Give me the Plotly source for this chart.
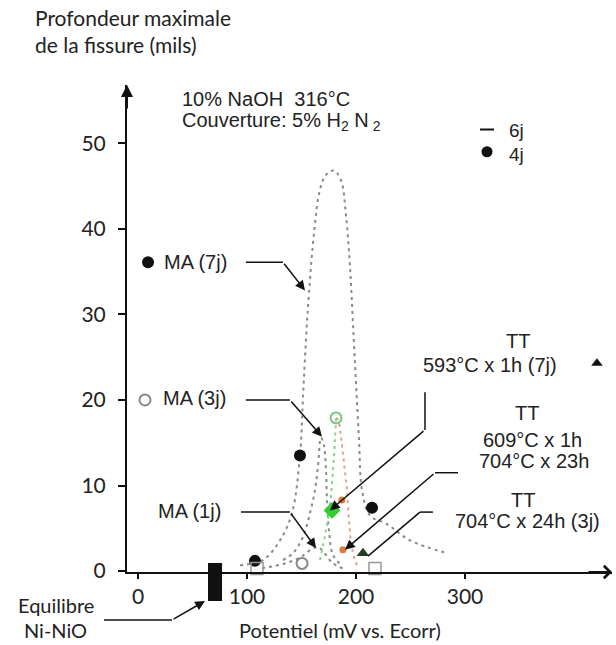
import plotly.graph_objects as go

# ---------------- data ----------------
# dotted envelope curves (potential mV, crack depth mils)
ma7_x = [93.6, 114.7, 130.3, 141.3, 148.6, 151.4, 154.1, 156.9, 161.5, 167.0, 172.5, 179.8,
         186.2, 190.8, 194.5, 197.2, 200.0, 202.8, 205.5, 212.8, 228.4, 249.5, 283.5]
ma7_y = [0.7, 1.3, 3.6, 6.8, 13.5, 20.4, 27.0, 32.5, 39.5, 44.6, 46.3, 46.8,
         45.7, 41.6, 35.6, 29.0, 22.0, 15.3, 9.5, 6.5, 5.5, 3.6, 2.1]
ma3_x = [133.0, 142.2, 151.4, 157.8, 162.4, 165.1, 167.9, 170.6, 172.5, 173.4, 175.2, 178.9, 187.2]
ma3_y = [1.3, 2.1, 4.0, 6.8, 9.5, 12.2, 15.6, 14.7, 11.8, 8.3, 4.8, 1.9, 0.6]
ma1_x = [113.8, 134.9, 148.6, 159.6, 165.1, 170.6, 178.0, 189.9]
ma1_y = [0.35, 0.9, 1.6, 2.6, 2.8, 2.2, 1.0, 0.2]
tt_left_x = [167.0, 172.5, 176.1, 178.9, 180.7, 181.7]
tt_left_y = [1.3, 4.8, 7.7, 11.8, 15.3, 17.9]
tt_right_x = [181.7, 183.5, 186.2, 189.0, 191.7, 193.6, 196.3, 201.8]
tt_right_y = [17.9, 17.7, 15.7, 12.6, 9.5, 6.0, 2.7, 0.35]

# individual measurements
filled_x = [9.2, 148.6, 214.7, 107.3]
filled_y = [36.1, 13.5, 7.4, 1.2]
open_circ_x = [6.4, 150.5]
open_circ_y = [20.0, 0.9]
open_sq_x = [109.2, 217.4]
open_sq_y = [0.3, 0.3]
green_open_x = [181.7]
green_open_y = [17.9]
green_fill_x = [178.0]
green_fill_y = [7.1]
orange_x = [187.0, 188.0]
orange_y = [8.3, 2.5]
green_tri_x = [206.4]
green_tri_y = [2.1]
tt593_x = [421.1]
tt593_y = [24.3]
legend_dash_x = [320.2]
legend_dash_y = [51.6]
legend_dot_x = [320.2]
legend_dot_y = [49.0]

# Ni-NiO equilibrium band (mV)
eq_x = [64.2, 77.1]

x_ticks = [0, 100, 200, 300]
y_ticks = [0, 10, 20, 30, 40, 50]

# ---------------- figure ----------------
W, H = 616, 645
L, R, T, B = 127, 4, 85, 73
PW, PH = W - L - R, H - T - B

def px(x):
    return (x - L) / PW

def py(y):
    return (H - B - y) / PH

CAL = "Lato, 'Open Sans', sans-serif"
ARI = "'Liberation Sans', Arial, sans-serif"
TXT = "#222222"
GREY = "#8a8a8a"

fig = go.Figure()

dot = dict(color=GREY, width=2, dash="3px,4px", shape="spline")
fig.add_trace(go.Scatter(x=ma7_x, y=ma7_y, mode="lines", line=dot))
fig.add_trace(go.Scatter(x=ma3_x, y=ma3_y, mode="lines", line=dot))
fig.add_trace(go.Scatter(x=ma1_x, y=ma1_y, mode="lines", line=dot))
fig.add_trace(go.Scatter(x=tt_left_x, y=tt_left_y, mode="lines",
                         line=dict(color="#8fcf8f", width=2, dash="3px,4px", shape="spline")))
fig.add_trace(go.Scatter(x=tt_right_x, y=tt_right_y, mode="lines",
                         line=dict(color="#d9a48a", width=2, dash="3px,4px", shape="spline")))

fig.add_trace(go.Scatter(x=filled_x, y=filled_y, mode="markers", cliponaxis=False,
                         marker=dict(symbol="circle", size=12, color="#111111")))
fig.add_trace(go.Scatter(x=open_circ_x, y=open_circ_y, mode="markers", cliponaxis=False,
                         marker=dict(symbol="circle-open", size=11, color="#888888", line=dict(width=2))))
fig.add_trace(go.Scatter(x=open_sq_x, y=open_sq_y, mode="markers", cliponaxis=False,
                         marker=dict(symbol="square-open", size=12, color="#999999", line=dict(width=1.5))))
fig.add_trace(go.Scatter(x=green_open_x, y=green_open_y, mode="markers",
                         marker=dict(symbol="circle-open", size=11, color="#7cc47c", line=dict(width=2))))
fig.add_trace(go.Scatter(x=green_fill_x, y=green_fill_y, mode="markers",
                         marker=dict(symbol="diamond", size=13, color="#33cc33")))
fig.add_trace(go.Scatter(x=orange_x, y=orange_y, mode="markers",
                         marker=dict(symbol="circle", size=7, color="#e07a3a")))
fig.add_trace(go.Scatter(x=green_tri_x, y=green_tri_y, mode="markers",
                         marker=dict(symbol="triangle-up", size=11, color="#1f3f1f")))
fig.add_trace(go.Scatter(x=tt593_x, y=tt593_y, mode="markers", cliponaxis=False,
                         marker=dict(symbol="triangle-up", size=10, color="#111111")))
fig.add_trace(go.Scatter(x=legend_dash_x, y=legend_dash_y, mode="markers",
                         marker=dict(symbol="line-ew", size=10, color="#111111", line=dict(width=2, color="#111111"))))
fig.add_trace(go.Scatter(x=legend_dot_x, y=legend_dot_y, mode="markers",
                         marker=dict(symbol="circle", size=11, color="#111111")))

shapes = []
# Ni-NiO equilibrium block (extends below the axis)
shapes.append(dict(type="rect", xref="x", yref="paper", x0=eq_x[0], x1=eq_x[1],
                   y0=py(601), y1=py(563), fillcolor="#111111", line=dict(width=0), layer="above"))

def seg(x0, y0, x1, y1):
    shapes.append(dict(type="line", xref="x", yref="y", x0=x0, y0=y0, x1=x1, y1=y1,
                       line=dict(color="#111111", width=1.5)))

# leader elbows (data coordinates)
seg(99.0, 36.1, 133.0, 36.1)
seg(99.0, 20.0, 139.4, 20.0)
seg(94.5, 6.9, 139.4, 6.9)
seg(263.3, 20.9, 263.3, 16.5)
seg(293.6, 11.5, 272.5, 11.5)
seg(270.6, 6.9, 258.7, 6.9)
seg(258.7, 6.9, 211.0, 1.75)
# Equilibre leader horizontal (below axis, paper coords)
shapes.append(dict(type="line", xref="paper", yref="paper", x0=px(104), y0=py(620),
                   x1=px(172), y1=py(620), line=dict(color="#111111", width=1.5)))

ann = []

def arrow(xh, yh, xt, yt):
    ann.append(dict(x=xh, y=yh, ax=xt, ay=yt, xref="x", yref="y", axref="x", ayref="y",
                    showarrow=True, arrowhead=2, arrowsize=1.3, arrowwidth=1.5,
                    arrowcolor="#111111", text=""))

arrow(153.2, 32.8, 133.0, 36.1)
arrow(168.8, 15.7, 139.4, 20.0)
arrow(163.3, 2.7, 139.4, 6.9)
arrow(176.1, 7.1, 263.3, 16.5)
arrow(189.9, 2.5, 272.5, 11.5)

# Equilibre arrow
ann.append(dict(x=px(205), y=py(601), ax=172 - 205, ay=620 - 601, xref="paper", yref="paper",
                showarrow=True, arrowhead=2, arrowsize=1.3,
                arrowwidth=1.5, arrowcolor="#111111", text=""))

# axis arrowheads
ann.append(dict(x=0, y=1, xref="paper", yref="paper", ax=0, ay=25, showarrow=True,
                arrowhead=2, arrowsize=1.2, arrowwidth=2, arrowcolor="#111111", text=""))
ann.append(dict(x=1, y=0, xref="paper", yref="paper", ax=-25, ay=0, showarrow=True,
                arrowhead=4, arrowsize=1.2, arrowwidth=2, arrowcolor="#111111", text=""))

def text(t, x, y, font, size, xanchor="left"):
    ann.append(dict(text=t, x=px(x), y=py(y), xref="paper", yref="paper", showarrow=False,
                    xanchor=xanchor, yanchor="middle", font=dict(family=font, size=size, color=TXT)))

text("Profondeur maximale", 33, 18, CAL, 21)
text("de la fissure (mils)", 33, 45, CAL, 21)
text("Potentiel (mV vs. Ecorr)", 340, 630, CAL, 20, "center")
text("Equilibre", 16, 605, CAL, 20)
text("Ni-NiO", 22, 630, CAL, 20)

text("10% NaOH  316°C", 180, 99, ARI, 20)
text("Couverture: 5% H<sub>2</sub> N<sub> 2</sub>", 180, 121, ARI, 20)
text("6j", 507, 130, ARI, 19)
text("4j", 507, 154, ARI, 19)
text("MA (7j)", 162, 262, ARI, 20)
text("MA (3j)", 161, 398, ARI, 20)
text("MA (1j)", 156, 511, ARI, 20)
text("TT", 518, 341, ARI, 20, "center")
text("593°C x 1h (7j)", 490, 365, ARI, 20, "center")
text("TT", 527, 413, ARI, 20, "center")
text("609°C x 1h", 532, 440, ARI, 20, "center")
text("704°C x 23h", 534, 461, ARI, 20, "center")
text("TT", 523, 500, ARI, 20, "center")
text("704°C x 24h (3j)", 527, 521, ARI, 20, "center")

fig.update_layout(
    width=W, height=H,
    margin=dict(l=L, r=R, t=T, b=B, pad=0),
    paper_bgcolor="white", plot_bgcolor="white",
    showlegend=False,
    shapes=shapes, annotations=ann,
    xaxis=dict(range=[-10.1, 434.9], tickvals=x_ticks, showgrid=False, zeroline=False,
               showline=True, linecolor="#111111", linewidth=2, ticks="outside", ticklen=5,
               tickwidth=2, tickcolor="#111111",
               tickfont=dict(family=CAL, size=21, color=TXT)),
    yaxis=dict(range=[-0.1, 56.8], tickvals=y_ticks, showgrid=False, zeroline=False,
               showline=True, linecolor="#111111", linewidth=2, ticks="outside", ticklen=7,
               tickwidth=2, tickcolor="#111111", ticklabelstandoff=8,
               tickfont=dict(family=CAL, size=21, color=TXT)),
)

fig.write_html("out.html")
